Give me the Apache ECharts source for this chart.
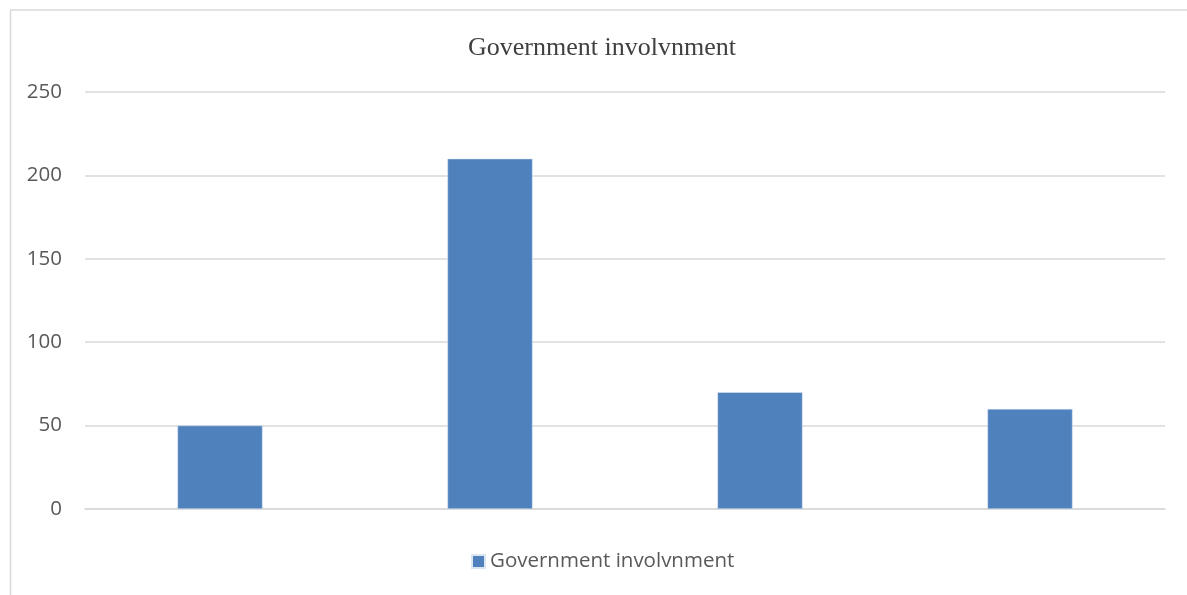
<!DOCTYPE html>
<html>
<head>
<meta charset="utf-8">
<script src="https://cdn.jsdelivr.net/npm/echarts@6/dist/echarts.min.js"></script>
<style>
html,body{margin:0;padding:0;background:#fff;}
#chart{width:1187px;height:595px;}
</style>
</head>
<body>
<div id="chart"></div>
<script>
const titleText = "Government involvnment";
const seriesName = "Government involvnment";
const categories = ["A", "B", "C", "D"];
const values = [50, 210, 70, 60];
const yTicks = { min: 0, max: 250, interval: 50 };

const chart = echarts.init(document.getElementById('chart'), null, { renderer: 'canvas' });
chart.setOption({
  animation: false,
  backgroundColor: '#ffffff',
  graphic: [{
    type: 'rect',
    left: 8, top: 7.5,
    shape: { x: 0, y: 0, width: 1200, height: 600 },
    style: { fill: 'none', stroke: '#D9D9D9', lineWidth: 1.5 },
    silent: true
  }],
  title: {
    text: titleText,
    left: 597, textAlign: 'center',
    top: 30,
    textStyle: { fontFamily: 'Liberation Serif', fontSize: 26, fontWeight: 'normal', color: '#404040' }
  },
  legend: {
    data: [seriesName],
    left: 466,
    top: 546,
    padding: 5,
    icon: 'rect',
    itemWidth: 13, itemHeight: 13, itemGap: 6,
    textStyle: { fontFamily: 'Open Sans', fontSize: 20.5, color: '#595959' }
  },
  grid: { left: 85, right: 22, top: 92, bottom: 86, containLabel: false },
  xAxis: {
    type: 'category',
    data: categories,
    axisLine: { show: true, lineStyle: { color: '#D9D9D9', width: 1.5 } },
    axisTick: { show: false },
    axisLabel: { show: false }
  },
  yAxis: {
    type: 'value',
    min: yTicks.min, max: yTicks.max, interval: yTicks.interval,
    axisLine: { show: false },
    axisTick: { show: false },
    splitLine: { lineStyle: { color: '#D9D9D9', width: 1.5 } },
    axisLabel: { margin: 23, fontFamily: 'Open Sans', fontSize: 20.5, color: '#595959' }
  },
  series: [{
    name: seriesName,
    type: 'bar',
    data: values,
    barWidth: '31.5%',
    itemStyle: { color: '#4F81BD', borderColor: '#DCE6F2', borderWidth: 0.5 }
  }]
});
</script>
</body>
</html>
